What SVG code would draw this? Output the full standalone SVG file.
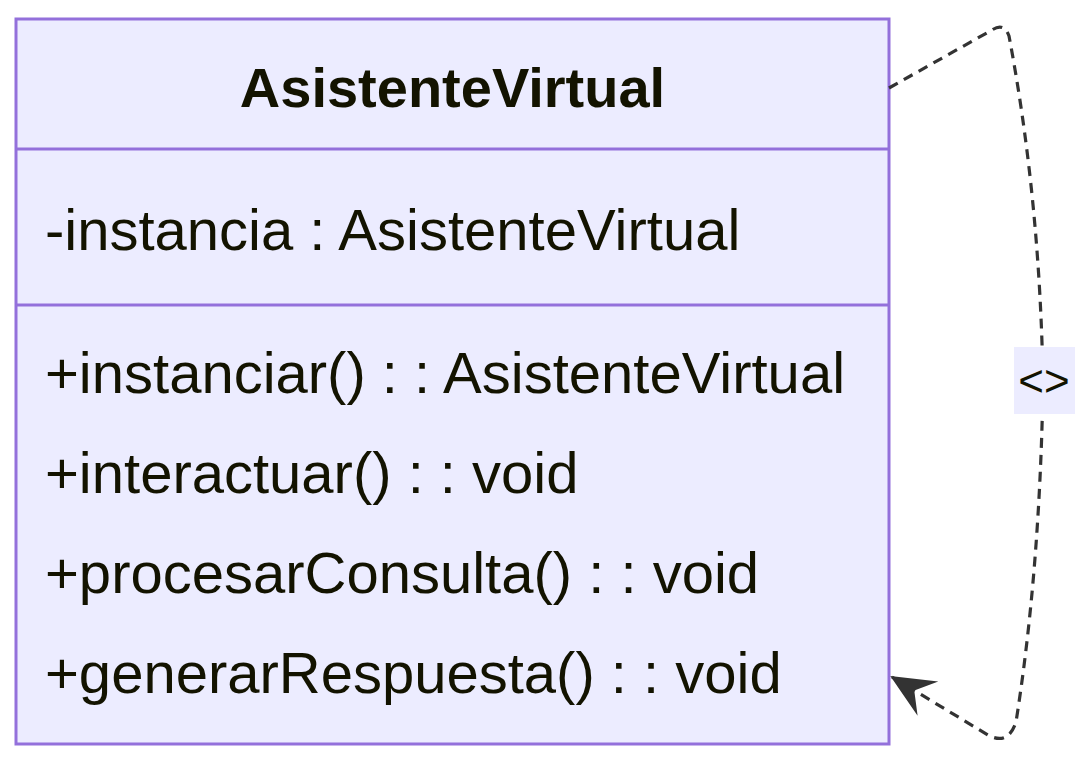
<svg xmlns="http://www.w3.org/2000/svg" width="1075" height="773" viewBox="0 0 1075 773">
<style>
.box{fill:#ECECFF;stroke:#9370DB;stroke-width:3}
.div{stroke:#9370DB;stroke-width:3}
.t{font-family:"Liberation Sans",Arial,sans-serif;fill:#131300;font-size:58px}
.title{font-weight:bold;font-size:56px}
.edge{fill:none;stroke:#333;stroke-width:3.2;stroke-dasharray:10,7}
.lbl{fill:#ECECFF}
.lt{font-size:44px}
</style>
<defs>
<marker id="arr" markerUnits="userSpaceOnUse" viewBox="0 0 50 40" refX="48" refY="20" markerWidth="50" markerHeight="40" orient="auto">
<path d="M50,20 L6,0 L22,20 L6,40 Z" fill="#333"/>
</marker>
</defs>
<rect width="1075" height="773" fill="#ffffff"/>
<g id="AsistenteVirtual">
<rect class="box" x="16" y="19" width="873" height="725"/>
<line class="div" x1="16" y1="149" x2="889" y2="149"/>
<line class="div" x1="16" y1="305" x2="889" y2="305"/>
<text class="t title" x="452.5" y="107" text-anchor="middle">AsistenteVirtual</text>
<text class="t" x="45" y="250">-instancia : AsistenteVirtual</text>
<text class="t" x="45" y="393">+instanciar() : : AsistenteVirtual</text>
<text class="t" x="45" y="493">+interactuar() : : void</text>
<text class="t" x="45" y="593">+procesarConsulta() : : void</text>
<text class="t" x="45" y="693">+generarRespuesta() : : void</text>
</g>
<g id="edges">
<path class="edge" d="M889,88 L992,30 Q1004,22 1009,36 Q1040,200 1043,383 Q1040,570 1016,722 Q1008,746 988,735 L892,677" marker-end="url(#arr)"/>
<g id="edge-label">
<rect class="lbl" x="1014" y="347" width="61" height="67"/>
<text class="t lt" x="1044" y="396" text-anchor="middle">&lt;&gt;</text>
</g>
</g>
</svg>
